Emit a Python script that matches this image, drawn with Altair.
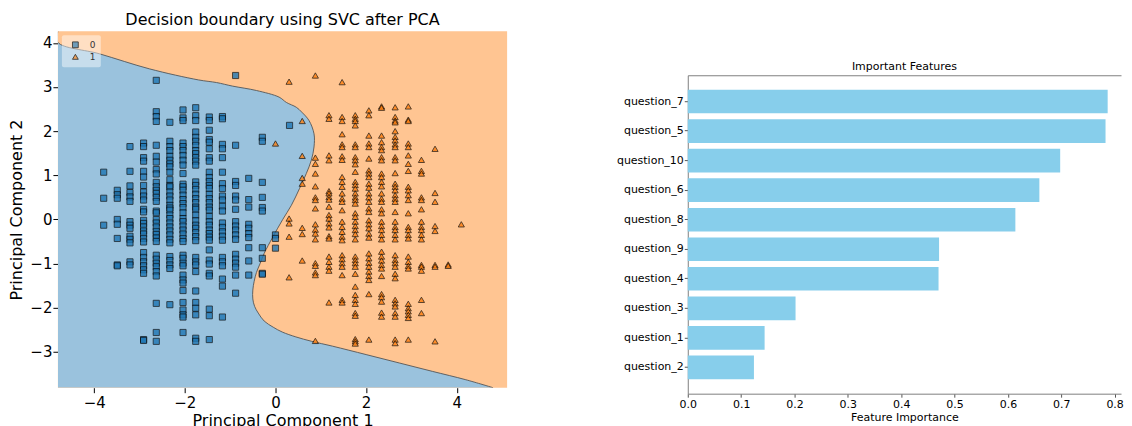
import altair as alt
import pandas as pd

# ---------------- data ----------------
# class 0 (squares): x column positions and the PC2 values found in each column
c0_x = [-3.79, -3.49, -3.21, -2.91, -2.63, -2.33, -2.04, -1.76, -1.46, -1.17, -0.88, -0.59, -0.29, 0.0, 0.31]
c0_y = [
    [1.07, 0.48, -0.13],
    [0.66, 0.56, 0.48, 0.0, -0.11, -0.43, -1.03, -1.05],
    [1.65, 1.09, 0.76, 0.61, 0.51, 0.41, -0.05, -0.13, -0.20, -0.38, -0.45, -0.53, -0.96, -1.03],
    [1.73, 1.65, 1.40, 1.32, 1.09, 0.96, 0.77, 0.62, 0.53, 0.44, 0.23, 0.17, -0.02, -0.09, -0.17, -0.26,
     -0.33, -0.43, -0.51, -0.75, -0.86, -0.96, -1.05, -1.14, -1.22, -2.72, -2.74],
    [3.15, 2.44, 2.33, 2.22, 1.68, 1.43, 1.30, 1.13, 1.03, 0.84, 0.74, 0.66, 0.59, 0.50, 0.41, 0.19, 0.15,
     0.0, -0.08, -0.17, -0.27, -0.34, -0.42, -0.50, -0.81, -0.90, -0.99, -1.07, -1.18, -1.28, -1.90, -2.56, -2.76],
    [2.20, 1.77, 1.65, 1.56, 1.43, 1.34, 1.26, 1.19, 1.07, 0.90, 0.77, 0.74, 0.62, 0.53, 0.44, 0.32, 0.26,
     0.21, 0.10, 0.02, -0.08, -0.17, -0.26, -0.35, -0.45, -0.53, -0.84, -0.93, -1.03, -1.11, -1.93],
    [2.48, 2.30, 2.24, 1.73, 1.65, 1.56, 1.45, 1.34, 1.23, 1.04, 0.80, 0.74, 0.66, 0.55, 0.45, 0.36, 0.27,
     0.15, 0.02, -0.05, -0.15, -0.24, -0.33, -0.43, -0.50, -0.81, -0.88, -0.99, -1.05, -1.26, -1.37, -1.44,
     -1.61, -1.88, -2.05, -2.16, -2.21, -2.56],
    [2.53, 2.35, 2.24, 1.98, 1.86, 1.77, 1.68, 1.56, 1.49, 1.40, 1.32, 1.23, 0.85, 0.77, 0.68, 0.57, 0.47,
     0.38, 0.28, 0.23, 0.10, -0.03, -0.13, -0.20, -0.30, -0.39, -0.48, -0.86, -0.96, -1.03, -1.18, -1.62,
     -1.88, -2.01, -2.16, -2.69, -2.76],
    [2.32, 2.24, 2.02, 1.81, 1.75, 1.60, 1.40, 1.32, 1.07, 0.95, 0.86, 0.77, 0.70, 0.57, 0.47, 0.38, 0.28,
     0.21, 0.07, -0.05, -0.13, -0.24, -0.32, -0.40, -0.47, -0.69, -0.92, -1.01, -1.22, -1.28, -2.03, -2.18, -2.72],
    [2.33, 2.28, 1.70, 1.60, 1.40, 1.07, 0.81, 0.70, 0.53, 0.44, 0.30, 0.19, -0.08, -0.18, -0.28, -0.38,
     -0.47, -0.86, -0.96, -1.05, -1.35, -1.51, -2.21],
    [3.26, 1.68, 0.86, 0.77, 0.53, 0.44, 0.23, -0.05, -0.15, -0.24, -0.35, -0.45, -0.79, -0.90, -0.99, -1.08, -1.26, -1.67],
    [0.93, 0.45, 0.28, -0.11, -0.20, -0.32, -0.41, -0.64, -0.94, -1.26],
    [1.86, 1.77, 0.84, 0.50, 0.27, 0.19, -0.64, -0.88, -1.22, -1.24],
    [-0.35, -0.43, -0.65],
    [2.13],
]

# class 1 (triangles)
c1_x = [0.0, 0.30, 0.59, 0.88, 1.18, 1.47, 1.76, 2.06, 2.34, 2.64, 2.93, 3.22, 3.52, 3.81, 4.10]
c1_y = [
    [1.72],
    [3.12, 0.02, -0.09, -0.39, -1.31],
    [2.23, 1.44, 0.94, 0.81, -0.19, -0.33, -0.93],
    [3.26, 1.40, 1.26, 1.04, 0.75, 0.50, 0.44, 0.25, -0.11, -0.23, -0.32, -0.45, -0.99, -1.05, -1.20, -1.26, -2.75],
    [2.36, 2.28, 1.45, 1.34, 0.64, 0.59, 0.51, 0.45, 0.29, 0.10, 0.02, -0.09, -0.18, -0.38, -0.43, -0.84,
     -0.96, -1.07, -1.16, -1.88],
    [3.11, 2.32, 2.23, 1.93, 1.70, 1.64, 1.43, 1.35, 0.96, 0.85, 0.74, 0.59, 0.47, 0.40, 0.21, -0.05, -0.17,
     -0.28, -0.39, -0.47, -0.81, -0.90, -0.99, -1.07, -1.26, -1.82, -1.88],
    [2.36, 2.28, 2.23, 2.13, 1.70, 1.64, 1.41, 1.34, 1.25, 1.08, 0.85, 0.78, 0.70, 0.59, 0.50, 0.44, 0.36,
     0.14, 0.06, -0.05, -0.15, -0.24, -0.33, -0.45, -0.84, -0.92, -0.99, -1.07, -1.23, -1.52, -1.71, -1.82,
     -1.91, -2.12, -2.18, -2.71, -2.76, -2.81],
    [2.47, 2.36, 1.90, 1.72, 1.64, 1.38, 1.11, 1.04, 0.96, 0.81, 0.72, 0.59, 0.50, 0.40, 0.25, 0.17, -0.02,
     -0.11, -0.20, -0.32, -0.41, -0.77, -0.88, -0.98, -1.07, -1.18, -1.28, -1.37, -1.69, -2.72],
    [2.56, 2.53, 1.90, 1.75, 1.64, 1.57, 1.41, 1.34, 1.04, 0.96, 0.85, 0.75, 0.59, 0.47, 0.40, 0.23, 0.14,
     -0.05, -0.15, -0.24, -0.35, -0.45, -0.73, -0.84, -0.93, -1.03, -1.11, -1.28, -1.69, -1.76, -1.86, -2.11, -2.20],
    [2.54, 2.32, 2.24, 2.20, 2.00, 1.87, 1.79, 1.70, 1.64, 1.41, 1.34, 1.05, 0.81, 0.74, 0.66, 0.55, 0.47,
     0.40, 0.17, -0.05, -0.17, -0.24, -0.35, -0.45, -0.81, -0.92, -0.99, -1.07, -1.23, -1.33, -1.82, -1.90,
     -1.97, -2.12, -2.20, -2.72, -2.80],
    [2.56, 2.26, 2.23, 1.72, 1.64, 1.45, 1.26, 1.10, 0.74, 0.66, 0.55, 0.44, 0.14, -0.17, -0.24, -0.35,
     -0.43, -0.84, -0.96, -1.05, -1.11, -1.91, -2.01, -2.08, -2.16, -2.23, -2.72],
    [1.35, 1.10, 1.04, 0.50, 0.44, 0.23, -0.05, -0.17, -0.24, -0.35, -0.45, -1.03, -1.07, -1.16, -1.82, -2.12],
    [1.60, 0.60, 0.40, -0.15, -0.26, -1.03, -1.07, -2.76],
    [-1.02, -1.05],
    [-0.11],
]

# decision boundary (PC1 of the boundary at each PC2 level)
boundary_y = [-3.81, -3.63, -3.44, -3.25, -3.06, -2.87, -2.76, -2.66, -2.55, -2.44, -2.30, -2.12, -1.97,
              -1.80, -1.60, -1.40, -1.20, -1.00, -0.77, -0.40, 0.00, 0.32, 0.70, 1.04, 1.34, 1.64, 1.94,
              2.24, 2.43, 2.54, 2.65, 2.77, 2.92, 3.02, 3.10, 3.16, 3.41, 3.75, 4.01, 4.26]
boundary_x = [4.80, 4.20, 3.46, 2.73, 2.00, 1.26, 0.80, 0.45, 0.15, -0.05, -0.25, -0.38, -0.46,
              -0.50, -0.50, -0.47, -0.42, -0.34, -0.25, -0.06, 0.16, 0.35, 0.53, 0.68, 0.79, 0.85, 0.85,
              0.74, 0.58, 0.46, 0.24, 0.08, -0.42, -0.95, -1.30, -1.70, -2.78, -3.88, -4.80, -4.80]

x_domain = [-4.80, 5.11]
y_domain = [-3.81, 4.26]
class_labels = ["0", "1"]

features = ["question_7", "question_5", "question_10", "question_6", "question_8",
            "question_9", "question_4", "question_3", "question_1", "question_2"]
importance = [0.787, 0.783, 0.698, 0.659, 0.614, 0.471, 0.470, 0.202, 0.144, 0.124]
importance_domain = [0, 0.812]
importance_ticks = [0, 0.1, 0.2, 0.3, 0.4, 0.5, 0.6, 0.7, 0.8]

# ---------------- tables ----------------
rows = []
for xv, ys in zip(c0_x, c0_y):
    for yv in ys:
        rows.append({"pc1": xv, "pc2": yv, "label": class_labels[0]})
for xv, ys in zip(c1_x, c1_y):
    for yv in ys:
        rows.append({"pc1": xv, "pc2": yv, "label": class_labels[1]})
pts = pd.DataFrame(rows)

bnd = pd.DataFrame({"bx": boundary_x, "by": boundary_y}).sort_values("by")
bnd["left"] = x_domain[0]
feat = pd.DataFrame({"feature": features, "importance": importance})

FONT = "DejaVu Sans"
SPINE = "#808080"

xs = alt.Scale(domain=x_domain, nice=False, zero=False)
ys_ = alt.Scale(domain=y_domain, nice=False, zero=False)

left_xaxis = alt.Axis(values=[-4, -2, 0, 2, 4], grid=False, domain=False, tickColor="black",
                      tickSize=5, labelPadding=3, labelFontSize=15, titleFontSize=16,
                      titlePadding=2, labelColor="black", titleColor="black",
                      titleFontWeight="normal", labelFlush=False)
left_yaxis = alt.Axis(values=[-3, -2, -1, 0, 1, 2, 3, 4], grid=False, domain=False, tickColor="black",
                      tickSize=5, labelPadding=1, labelFontSize=15, titleFontSize=16,
                      titlePadding=5, labelColor="black", titleColor="black",
                      titleFontWeight="normal")

region = alt.Chart(bnd).mark_area(
    orient="horizontal", color="#9AC2DD", interpolate="catmull-rom", clip=True
).encode(
    y=alt.Y("by:Q", scale=ys_, axis=left_yaxis, title="Principal Component 2"),
    x=alt.X("bx:Q", scale=xs, axis=left_xaxis, title="Principal Component 1"),
    x2=alt.X2("left:Q"),
)

edge = alt.Chart(bnd).mark_line(
    color="#555555", strokeWidth=0.9, interpolate="catmull-rom", clip=True
).encode(
    y=alt.Y("by:Q", scale=ys_),
    x=alt.X("bx:Q", scale=xs),
    order=alt.Order("by:Q"),
)

points = alt.Chart(pts).mark_point(
    filled=True, stroke="black", strokeWidth=0.8, opacity=0.8, size=38
).encode(
    x=alt.X("pc1:Q", scale=xs),
    y=alt.Y("pc2:Q", scale=ys_),
    color=alt.Color("label:N",
                    scale=alt.Scale(domain=class_labels, range=["#1f77b4", "#ff7f0e"]),
                    legend=alt.Legend(orient="top-left", title=None, offset=4, padding=5,
                                      fillColor="rgba(255,255,255,0.45)", cornerRadius=2,
                                      labelFontSize=9, labelColor="#333333", symbolSize=34,
                                      symbolOffset=4, labelOffset=10, rowPadding=2,
                                      symbolStrokeColor="black", symbolStrokeWidth=0.8,
                                      symbolOpacity=0.8)),
    shape=alt.Shape("label:N",
                    scale=alt.Scale(domain=class_labels, range=["square", "triangle-up"]),
                    legend=alt.Legend(orient="top-left", title=None)),
)

left = alt.layer(region, edge, points).properties(
    width=450, height=357,
    title=alt.TitleParams("Decision boundary using SVC after PCA", fontSize=16,
                          fontWeight="normal", offset=3, color="black"),
    view=alt.ViewBackground(fill="#FFC592", strokeWidth=0),
)

imp_scale = alt.Scale(domain=importance_domain, nice=False, zero=True)
feat_scale = alt.Scale(paddingInner=0.2, paddingOuter=0.49)

bars = alt.Chart(feat).mark_bar(color="#87CEEB").encode(
    x=alt.X("importance:Q", scale=imp_scale,
            axis=alt.Axis(values=importance_ticks, format=".1f",
                          grid=False, labelFlush=False, tickSize=3.5, labelPadding=1,
                          labelFontSize=11, titleFontSize=11, titleFontWeight="normal",
                          titlePadding=2, domainColor=SPINE, tickColor="#555555",
                          labelColor="black", titleColor="black"),
            title="Feature Importance"),
    y=alt.Y("feature:N", sort=features, scale=feat_scale,
            axis=alt.Axis(tickSize=3.5, labelPadding=1, labelFontSize=11, domainColor=SPINE,
                          tickColor="#555555", labelColor="black", grid=False),
            title=None),
)

# invisible copy of the bars that only carries the top spine (matplotlib's top frame line)
top_frame = alt.Chart(feat).mark_bar(opacity=0).encode(
    x=alt.X("importance:Q", scale=imp_scale,
            axis=alt.Axis(orient="top", labels=False, ticks=False, grid=False,
                          domainColor=SPINE),
            title=None),
    y=alt.Y("feature:N", sort=features, scale=feat_scale, title=None),
)

right = alt.layer(bars, top_frame).resolve_axis(x="independent").properties(
    width=434, height=319,
    title=alt.TitleParams("Important Features", fontSize=11, fontWeight="normal",
                          offset=3, color="black"),
    view=alt.ViewBackground(strokeWidth=0),
)

spacer = alt.Chart(pd.DataFrame({"s": [0]})).mark_point(opacity=0).encode(
    x=alt.value(0), y=alt.value(0)
).properties(width=10, height=10, view=alt.ViewBackground(strokeWidth=0))

chart = alt.hconcat(
    left, alt.vconcat(spacer, right, spacing=20), spacing=109
).configure(
    font=FONT, padding={"left": 0, "top": 4, "right": 0, "bottom": 0}
)

chart.save("out.html", embed_options={"renderer": "svg", "actions": False})
